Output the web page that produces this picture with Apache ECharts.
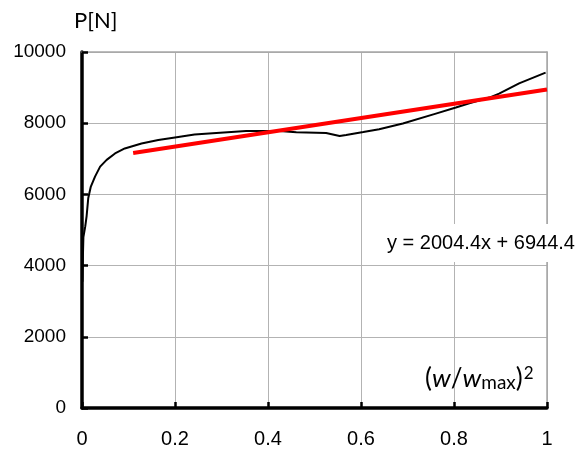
<!DOCTYPE html>
<html>
<head>
<meta charset="utf-8">
<script src="https://cdn.jsdelivr.net/npm/echarts@6/dist/echarts.min.js"></script>
<style>
html,body{margin:0;padding:0;background:#fff;}
#chart{width:584px;height:454px;}
</style>
</head>
<body>
<div id="chart"></div>
<script>
// measured curve
var curveX = [0.001, 0.002, 0.003, 0.007, 0.010, 0.0135, 0.019, 0.028, 0.039, 0.053, 0.071, 0.092, 0.128, 0.164, 0.200, 0.242, 0.281, 0.353, 0.425, 0.461, 0.525, 0.554, 0.568, 0.605, 0.639, 0.690, 0.761, 0.804, 0.833, 0.876, 0.897, 0.940, 0.997];
var curveY = [3550, 4300, 4800, 5100, 5400, 5900, 6220, 6500, 6780, 6970, 7150, 7290, 7430, 7530, 7600, 7680, 7720, 7780, 7780, 7745, 7725, 7640, 7670, 7750, 7830, 7990, 8270, 8440, 8560, 8720, 8830, 9120, 9420];
// linear trend line endpoints
var fitX = [0.11, 1.0];
var fitY = [7165, 8949];
var equationText = 'y = 2004.4x + 6944.4';
var yTicks = [0, 2000, 4000, 6000, 8000, 10000];
var xTicks = [0, 0.2, 0.4, 0.6, 0.8, 1];

var chart = echarts.init(document.getElementById('chart'));
var curve = curveX.map(function (x, i) { return [x, curveY[i]]; });
var fit = fitX.map(function (x, i) { return [x, fitY[i]]; });

function frameAxis(pos) {
  return {
    type: 'value', min: 0, max: 1, position: pos,
    axisLine: { show: true, onZero: false, lineStyle: { color: '#a6a6a6', width: 1.5 } },
    axisTick: { show: false }, axisLabel: { show: false }, splitLine: { show: false }
  };
}

chart.setOption({
  animation: false,
  backgroundColor: '#ffffff',
  grid: { left: 82, right: 37, top: 52, bottom: 46 },
  xAxis: [{
    type: 'value', min: 0, max: 1, interval: 0.2,
    axisLine: { show: true, onZero: false, lineStyle: { color: '#000', width: 3.5 } },
    axisTick: { show: true, inside: true, length: 6, lineStyle: { color: '#000', width: 2.5 } },
    splitLine: { show: true, lineStyle: { color: '#b3b3b3', width: 1 } },
    axisLabel: {
      margin: 21, color: '#000', fontSize: 20, fontFamily: 'Liberation Sans, Arial, sans-serif',
      formatter: function (v) { return String(+v.toFixed(1)); }
    }
  }, frameAxis('top')],
  yAxis: [{
    type: 'value', min: 0, max: 10000, interval: 2000,
    axisLine: { show: true, onZero: false, lineStyle: { color: '#000', width: 3.5 } },
    axisTick: { show: true, inside: true, length: 6, lineStyle: { color: '#000', width: 2.5 } },
    splitLine: { show: true, lineStyle: { color: '#b3b3b3', width: 1 } },
    axisLabel: {
      margin: 16, color: '#000', fontSize: 19, fontFamily: 'Liberation Sans, Arial, sans-serif',
      formatter: function (v) { return String(v); }
    }
  }, frameAxis('right')],
  series: [
    {
      type: 'line', data: curve, symbol: 'none', smooth: false, z: 3,
      lineStyle: { color: '#000', width: 2 }
    },
    {
      type: 'line', data: fit, symbol: 'none', z: 4,
      lineStyle: { color: '#ff0000', width: 4 }
    }
  ],
  graphic: [
    {
      type: 'text', left: 74, top: 10, z: 10,
      style: { text: 'P[N]', fontSize: 22, fontFamily: 'Lato, sans-serif', fill: '#000' }
    },
    {
      type: 'text', z: 10, x: 481, y: 243,
      style: {
        text: equationText, fontSize: 20, fontFamily: 'Liberation Sans, Arial, sans-serif',
        fill: '#000', align: 'center', verticalAlign: 'middle',
        backgroundColor: '#fff', padding: [9, 5]
      }
    },
    {
      type: 'text', z: 10, x: 425, y: 379,
      style: {
        text: '{n|(}{i|w}{n|/}{i|w}{s|max}{n|)}{p|2}',
        verticalAlign: 'middle',
        rich: {
          n: { fontSize: 26, fontFamily: 'Lato, sans-serif', fill: '#000' },
          i: { fontSize: 26, fontFamily: 'Lato, sans-serif', fontStyle: 'italic', fill: '#000' },
          s: { fontSize: 19, fontFamily: 'Lato, sans-serif', fill: '#000', verticalAlign: 'bottom', padding: [7, 0, 0, 0] },
          p: { fontSize: 17, fontFamily: 'Lato, sans-serif', fill: '#000', verticalAlign: 'top', padding: [0, 0, 10, 1] }
        }
      }
    }
  ]
});
</script>
</body>
</html>
